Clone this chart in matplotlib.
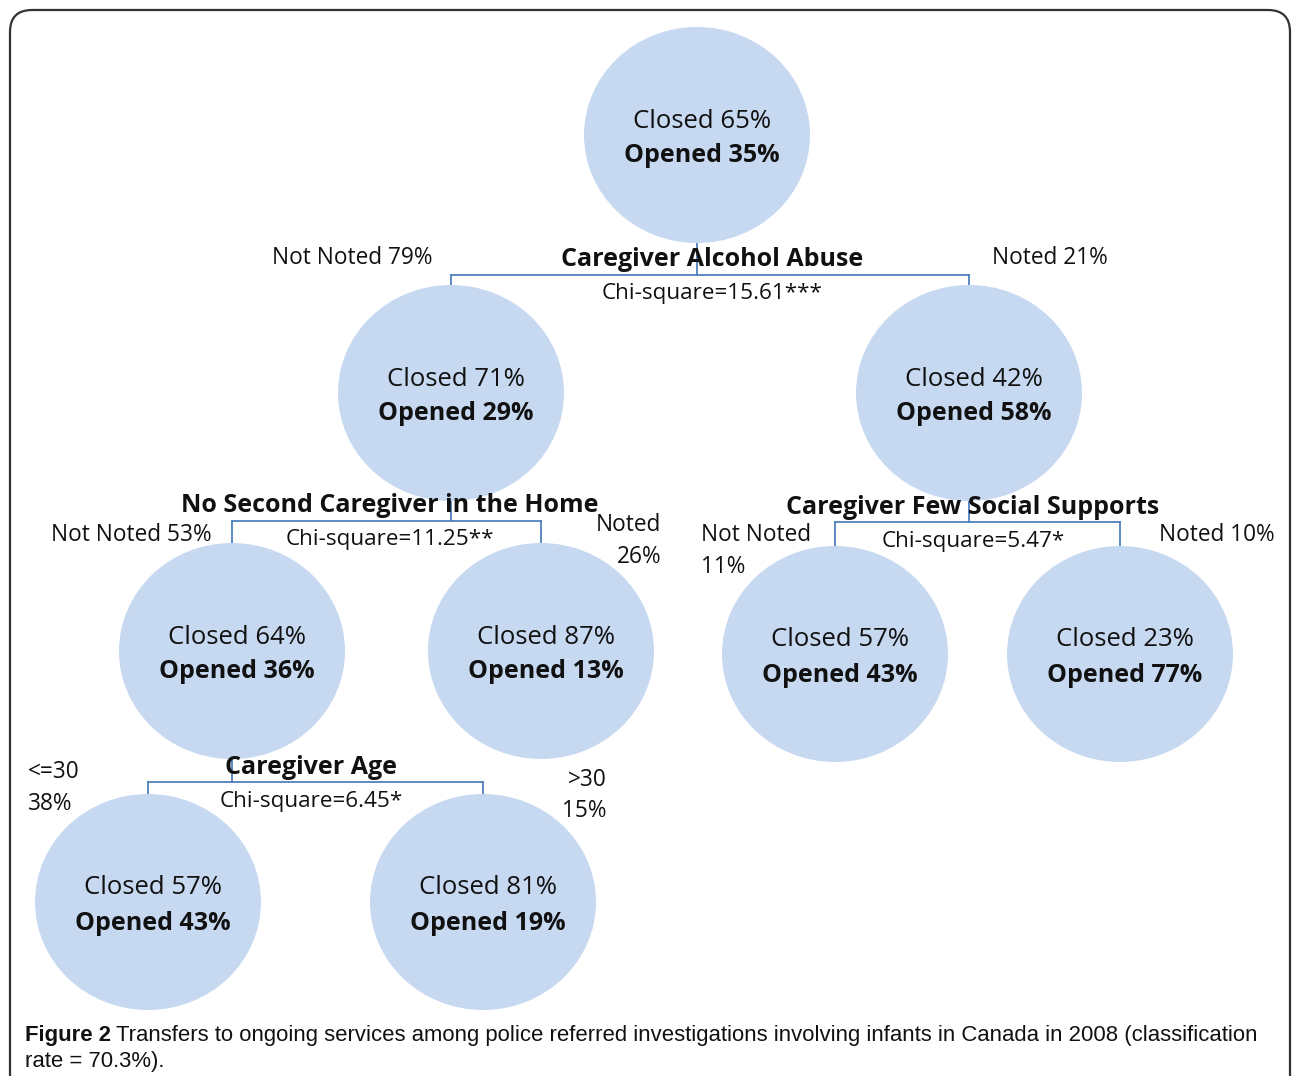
import matplotlib.pyplot as plt
from matplotlib.patches import Ellipse, FancyBboxPatch

# nodos del arbol: (x, y, closed %, opened %)
node_x = [697, 451, 969, 232, 541, 835, 1120, 148, 483]
node_y = [135, 393, 393, 651, 651, 654, 654, 902, 902]
closed_pct = [65, 71, 42, 64, 87, 57, 23, 57, 81]
opened_pct = [35, 29, 58, 36, 13, 43, 77, 43, 19]

# divisiones: (padre, hijo izq, hijo der)
split_parent = [0, 1, 2, 3]
split_left = [1, 3, 5, 7]
split_right = [2, 4, 6, 8]
split_names = ["Caregiver Alcohol Abuse", "No Second Caregiver in the Home",
               "Caregiver Few Social Supports", "Caregiver Age"]
split_chi = ["Chi-square=15.61***", "Chi-square=11.25**",
             "Chi-square=5.47*", "Chi-square=6.45*"]
bar_y = [275, 521, 522, 782]
name_x = [712, 390, 973, 311]

W, H = 1293, 1076
RX, RY = 226, 216
CIRCLE = '#c6d9f1'
LINE = '#4f81bd'
FONT = ['Open Sans', 'DejaVu Sans']

fig = plt.figure(figsize=(W / 100, H / 100), dpi=100)
ax = fig.add_axes([0, 0, 1, 1])
ax.set_xlim(0, W)
ax.set_ylim(H, 0)
ax.axis('off')

# marco redondeado
frame = FancyBboxPatch((10, 10), 1280, 1120, boxstyle='round,pad=0,rounding_size=22',
                       fill=False, edgecolor='#333333', linewidth=1.6)
ax.add_patch(frame)

# lineas de conexion
for p, l, r, by in zip(split_parent, split_left, split_right, bar_y):
    ax.plot([node_x[p], node_x[p]], [node_y[p] + RY / 2, by], color=LINE, lw=1.3, zorder=1)
    ax.plot([node_x[l], node_x[r]], [by, by], color=LINE, lw=1.3, zorder=1)
    ax.plot([node_x[l], node_x[l]], [by, node_y[l] - RY / 2 + 3], color=LINE, lw=1.3, zorder=1)
    ax.plot([node_x[r], node_x[r]], [by, node_y[r] - RY / 2 + 3], color=LINE, lw=1.3, zorder=1)

# circulos
for x, y, c, o in zip(node_x, node_y, closed_pct, opened_pct):
    ax.add_patch(Ellipse((x, y), RX, RY, facecolor=CIRCLE, edgecolor='none', zorder=2))
    ax.text(x + 5, y - 14, f"Closed {c}%", ha='center', va='center', fontsize=18.5,
            family=FONT, color='#111111', zorder=3)
    ax.text(x + 5, y + 21, f"Opened {o}%", ha='center', va='center', fontsize=18,
            family=FONT, fontweight='bold', color='#111111', zorder=3)

# nombres de variables y chi-cuadrado
for nx, by, name, chi in zip(name_x, bar_y, split_names, split_chi):
    ax.text(nx, by - 15, name, ha='center', va='center', fontsize=18, family=FONT,
            fontweight='bold', color='#111111', zorder=4)
    ax.text(nx, by + 19, chi, ha='center', va='center', fontsize=16.2, family=FONT,
            color='#111111', zorder=4)

# etiquetas de ramas
branch = [
    (352, 258, "Not Noted 79%", 'center'),
    (1050, 258, "Noted 21%", 'center'),
    (131, 535, "Not Noted 53%", 'center'),
    (661, 525, "Noted", 'right'),
    (661, 557, "26%", 'right'),
    (701, 535, "Not Noted", 'left'),
    (701, 567, "11%", 'left'),
    (1217, 535, "Noted 10%", 'center'),
    (28, 772, "<=30", 'left'),
    (28, 804, "38%", 'left'),
    (607, 780, ">30", 'right'),
    (607, 811, "15%", 'right'),
]
for bx, by, txt, ha in branch:
    ax.text(bx, by, txt, ha=ha, va='center', fontsize=16.3, family=FONT,
            color='#111111', zorder=4)

# pie de figura, ajustado al ancho de la linea
cap_font = ['Liberation Sans', 'DejaVu Sans']
line1 = ("Transfers to ongoing services among police referred investigations "
         "involving infants in Canada in 2008 (classification")
renderer = fig.canvas.get_renderer()
fs = 15.0
for _ in range(4):
    t1 = ax.text(25, 1036, "Figure 2", ha='left', va='center', fontsize=fs,
                 family=cap_font, fontweight='bold', color='#111111')
    b1 = t1.get_window_extent(renderer)
    t2 = ax.text(b1.x1 + 5, H - 1036, line1, ha='left', va='center', fontsize=fs,
                 family=cap_font, color='#111111', transform=None)
    b2 = t2.get_window_extent(renderer)
    total = b2.x1 - 25
    t1.remove()
    t2.remove()
    fs = fs * (1252 - 25) / total

t1 = ax.text(25, 1036, "Figure 2", ha='left', va='center', fontsize=fs,
             family=cap_font, fontweight='bold', color='#111111')
b1 = t1.get_window_extent(renderer)
x_after = ax.transData.inverted().transform((b1.x1 + 5, 0))[0]
ax.text(x_after, 1036, line1, ha='left', va='center', fontsize=fs,
        family=cap_font, color='#111111')
ax.text(25, 1062, "rate = 70.3%).", ha='left', va='center', fontsize=fs,
        family=cap_font, color='#111111')

fig.savefig('out.png', dpi=100)
plt.close(fig)
